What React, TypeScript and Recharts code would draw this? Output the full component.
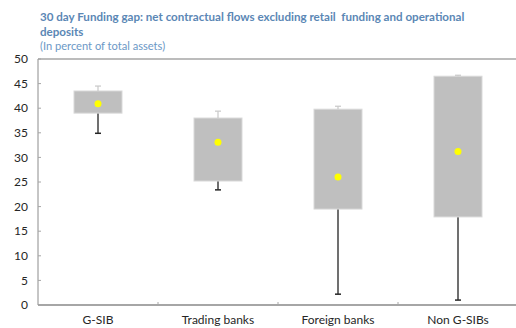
import { ComposedChart, Bar, Line, XAxis, YAxis, ReferenceLine } from "recharts";

const categories = ["G-SIB", "Trading banks", "Foreign banks", "Non G-SIBs"];
const whiskerLow = [34.9, 23.4, 2.2, 1.0];
const quartile1 = [39.0, 25.2, 19.5, 17.9];
const quartile3 = [43.5, 38.0, 39.8, 46.5];
const whiskerHigh = [44.5, 39.4, 40.4, 46.7];
const means = [40.9, 33.1, 26.0, 31.2];
const yTicks = [0, 5, 10, 15, 20, 25, 30, 35, 40, 45, 50];

// stacked pieces: invisible base, lower whisker, box, upper whisker
const data = categories.map((name, i) => ({
  name,
  base: whiskerLow[i],
  lower: quartile1[i] - whiskerLow[i],
  box: quartile3[i] - quartile1[i],
  upper: whiskerHigh[i] - quartile3[i],
  mean: means[i],
}));

const FONT = "Lato, 'Liberation Sans', sans-serif";

function LowerWhisker(props: any) {
  const { x, y, width, height } = props;
  const cx = x + width / 2;
  return (
    <g>
      <line x1={cx} x2={cx} y1={y} y2={y + height} stroke="#404040" strokeWidth={1.5} />
      <line x1={cx - 3} x2={cx + 3} y1={y + height} y2={y + height} stroke="#262626" strokeWidth={1.5} />
    </g>
  );
}

function UpperWhisker(props: any) {
  const { x, y, width, height } = props;
  const cx = x + width / 2;
  return (
    <g>
      <line x1={cx} x2={cx} y1={y} y2={y + height} stroke="#c8c8c8" strokeWidth={1.2} />
      <line x1={cx - 3} x2={cx + 3} y1={y} y2={y} stroke="#c8c8c8" strokeWidth={1.2} />
    </g>
  );
}

function BoxShape(props: any) {
  const { x, y, width, height } = props;
  return <rect x={x} y={y} width={width} height={height} fill="#bfbfbf" stroke="#d9d9d9" strokeWidth={1} />;
}

function CategoryTick(props: any) {
  const { x, y, payload, index } = props;
  const half = payload.offset ?? 60;
  const edge = payload.coordinate - half;
  const axisY = y - 10;
  return (
    <g>
      {index > 0 && <line x1={edge} x2={edge} y1={axisY} y2={axisY - 3} stroke="#a6a6a6" />}
      <text x={x} y={y} dy="0.71em" textAnchor="middle" fontSize={12} fill="#262626" fontFamily={FONT}>
        {payload.value}
      </text>
    </g>
  );
}

function ValueTick(props: any) {
  const { x, y, payload } = props;
  const axisX = x + 10;
  return (
    <g>
      <line x1={axisX} x2={axisX + 3} y1={y} y2={y} stroke="#a6a6a6" />
      <text x={x} y={y} dy="0.35em" textAnchor="end" fontSize={12} fill="#262626" fontFamily={FONT}>
        {payload.value}
      </text>
    </g>
  );
}

export default function App() {
  return (
    <div style={{ position: "absolute", left: 0, top: 0, width: 516, height: 328, overflow: "hidden", background: "#fff", fontFamily: FONT }}>
      <div style={{ position: "absolute", left: 40, top: 9, fontSize: 11.6, fontWeight: 700, lineHeight: "15px", color: "#5b87b5", whiteSpace: "nowrap" }}>
        30 day Funding gap: net contractual flows excluding retail&nbsp; funding and operational
        <br />
        deposits
      </div>
      <div style={{ position: "absolute", left: 40, top: 39, fontSize: 11.1, lineHeight: "14px", color: "#6b98c6", whiteSpace: "nowrap" }}>
        (In percent of total assets)
      </div>
      <ComposedChart width={524} height={328} data={data} margin={{ top: 59, right: 6, left: 8, bottom: 0 }}>
        <XAxis
          dataKey="name"
          height={23}
          tickLine={false}
          tickSize={0}
          tickMargin={10}
          axisLine={{ stroke: "#a6a6a6", strokeWidth: 2 }}
          tick={<CategoryTick />}
          interval={0}
        />
        <YAxis
          domain={[0, 50]}
          ticks={yTicks}
          width={30}
          tickLine={false}
          tickSize={0}
          tickMargin={10}
          axisLine={{ stroke: "#8c8c8c" }}
          tick={<ValueTick />}
          interval={0}
        />
        <ReferenceLine y={50} stroke="#a6a6a6" strokeWidth={1.5} />
        <Bar dataKey="base" stackId="b" fill="none" barSize={48} isAnimationActive={false} />
        <Bar dataKey="lower" stackId="b" barSize={48} shape={<LowerWhisker />} isAnimationActive={false} />
        <Bar dataKey="box" stackId="b" barSize={48} shape={<BoxShape />} isAnimationActive={false} />
        <Bar dataKey="upper" stackId="b" barSize={48} shape={<UpperWhisker />} isAnimationActive={false} />
        <Line
          dataKey="mean"
          stroke="none"
          dot={{ r: 3.5, fill: "#ffff00", stroke: "#ffff00", strokeWidth: 0 }}
          activeDot={false}
          isAnimationActive={false}
        />
      </ComposedChart>
    </div>
  );
}
